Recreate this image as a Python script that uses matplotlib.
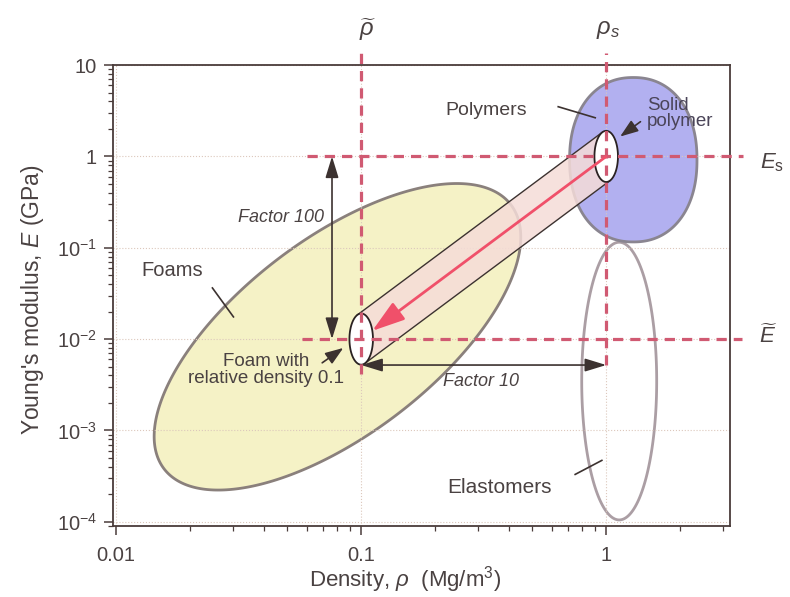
import numpy as np
import matplotlib
matplotlib.use('Agg')
import matplotlib.pyplot as plt
from matplotlib.patches import Polygon, FancyArrowPatch
from matplotlib.ticker import FixedLocator, FixedFormatter, LogLocator, NullFormatter

plt.rcParams['font.family'] = ['Liberation Sans', 'DejaVu Sans']
plt.rcParams['mathtext.fontset'] = 'custom'
plt.rcParams['mathtext.rm'] = 'Liberation Sans'
plt.rcParams['mathtext.it'] = 'Liberation Sans:italic'
plt.rcParams['mathtext.bf'] = 'Liberation Sans:bold'

# ---------------- data ----------------
x_ticks = [0.01, 0.1, 1]
x_tick_labels = ['0.01', '0.1', '1']
y_ticks = [1e-4, 1e-3, 1e-2, 1e-1, 1, 10]
y_tick_labels = [r'$10^{-4}$', r'$10^{-3}$', r'$10^{-2}$', r'$10^{-1}$', '1', '10']

rho_solid, E_solid = 1.0, 1.0        # solid polymer (Mg/m3, GPa)
rho_foam, E_foam = 0.1, 0.01         # foam, relative density 0.1

# material envelopes (centre in data units, half-sizes in decades)
foam_centre = (0.08, 0.0106)
foam_matrix = [[0.708, -0.242], [1.445, 0.853]]
polymer_centre = (1.29, 0.92)
polymer_half = (0.26, 0.90)
elastomer_centre = (1.13, 3.47e-3)
elastomer_half = (0.153, 1.52)
point_half = (0.048, 0.28)           # small ellipses marking solid / foam

factor100_x = 0.076
factor10_y = 0.0052

TXT = '#4a4242'
DARK = '#3c3230'
RED = '#d05a72'

# ---------------- helpers ----------------
T = np.linspace(0, 2 * np.pi, 400)


def ellipse_xy(centre, M):
    u0, v0 = np.log10(centre)
    u = u0 + M[0][0] * np.cos(T) + M[0][1] * np.sin(T)
    v = v0 + M[1][0] * np.cos(T) + M[1][1] * np.sin(T)
    return np.column_stack([10 ** u, 10 ** v])


def superellipse_xy(centre, half, n):
    u0, v0 = np.log10(centre)
    c, s = np.cos(T), np.sin(T)
    u = u0 + half[0] * np.sign(c) * np.abs(c) ** (2.0 / n)
    v = v0 + half[1] * np.sign(s) * np.abs(s) ** (2.0 / n)
    return np.column_stack([10 ** u, 10 ** v])


fig = plt.figure(figsize=(7.9, 5.97), dpi=100)
ax = fig.add_axes([0.143, 0.119, 0.781, 0.772])
ax.set_xscale('log')
ax.set_yscale('log')
ax.set_xlim(0.0097, 3.2)
ax.set_ylim(0.9e-4, 10)
ax.set_axisbelow('line')

# envelopes
ax.add_patch(Polygon(ellipse_xy(foam_centre, foam_matrix), closed=True,
                     fc='#f5f2c6', ec='#8a807c', lw=2.0, zorder=1))
ax.add_patch(Polygon(ellipse_xy(elastomer_centre, [[elastomer_half[0], 0], [0, elastomer_half[1]]]),
                     closed=True, fc='white', ec='#ab9ea4', lw=2.0, zorder=1))
ax.add_patch(Polygon(superellipse_xy(polymer_centre, polymer_half, 2.2), closed=True,
                     fc='#b2b0f0', ec='#8a8590', lw=2.0, zorder=1))

# tube joining the two states
uf, vf = np.log10([rho_foam, E_foam])
us, vs = np.log10([rho_solid, E_solid])
du, dv = us - uf, vs - vf
au, av = point_half
t0 = np.arctan(-(av * du) / (au * dv))
pu, pv = au * np.cos(t0), av * np.sin(t0)
corners_log = [(uf + pu, vf + pv), (us + pu, vs + pv), (us - pu, vs - pv), (uf - pu, vf - pv)]
corners = [(10 ** a, 10 ** b) for a, b in corners_log]
ax.add_patch(Polygon(corners, closed=True, fc='#f5dcd8', ec='none', alpha=0.85, zorder=2))
for i, j in [(0, 1), (3, 2)]:
    ax.plot([corners[i][0], corners[j][0]], [corners[i][1], corners[j][1]],
            color=DARK, lw=1.0, zorder=2.2)

for c in [(rho_foam, E_foam), (rho_solid, E_solid)]:
    ax.add_patch(Polygon(ellipse_xy(c, [[au, 0], [0, av]]), closed=True,
                         fc='white', ec='#2a2222', lw=1.3, zorder=3))

# red dashed reference lines
dash = dict(color=RED, lw=2.3, dashes=(3.2, 2.2), zorder=4, clip_on=False)
ax.plot([rho_foam, rho_foam], [0.0041, 14.6], **dash)
ax.plot([rho_solid, rho_solid], [0.0052, 13.5], **dash)
ax.plot([0.060, 3.62], [E_solid, E_solid], **dash)
ax.plot([0.0574, 3.6], [E_foam, E_foam], **dash)

# red arrow solid -> foam
tip_u = uf + 0.045
tip_v = vf + 0.045 * dv / du
ax.add_patch(FancyArrowPatch((rho_solid, E_solid), (10 ** tip_u, 10 ** tip_v),
                             arrowstyle='-|>,head_length=1.0,head_width=0.32',
                             mutation_scale=20, color='#f0506a', lw=2.0,
                             shrinkA=0, shrinkB=0, zorder=5))

# black double arrows
black = dict(arrowstyle='<|-|>,head_length=1.3,head_width=0.4', mutation_scale=10,
             color=DARK, lw=1.2, shrinkA=0, shrinkB=0, zorder=5)
ax.add_patch(FancyArrowPatch((factor100_x, E_solid), (factor100_x, E_foam), **black))
ax.add_patch(FancyArrowPatch((rho_foam, factor10_y), (rho_solid, factor10_y), **black))

small = dict(arrowstyle='-|>,head_length=1.1,head_width=0.4', mutation_scale=10,
             color=DARK, lw=1.2, shrinkA=0, shrinkB=0, zorder=5)
ax.add_patch(FancyArrowPatch((1.38, 2.4), (1.14, 1.65), **small))
ax.add_patch(FancyArrowPatch((0.0693, 0.0055), (0.0845, 0.0080), **small))

# leader lines
for (x0, y0), (x1, y1) in [((0.0247, 0.0363), (0.0301, 0.0175)),
                           ((0.637, 3.5), (0.902, 2.65)),
                           ((0.747, 3.3e-4), (0.96, 4.7e-4))]:
    ax.plot([x0, x1], [y0, y1], color=DARK, lw=1.2, zorder=5)

# texts
ax.text(0.0169, 0.057, 'Foams', fontsize=14.5, color=TXT, ha='center', va='center', zorder=6)
ax.text(0.324, 3.2, 'Polymers', fontsize=14, color=TXT, ha='center', va='center', zorder=6)
ax.text(0.366, 2.4e-4, 'Elastomers', fontsize=15, color=TXT, ha='center', va='center', zorder=6)
ax.text(1.47, 2.93, 'Solid\npolymer', fontsize=13.5, color='#4a4458', ha='left', va='center',
        linespacing=0.95, zorder=6)
ax.text(0.0409, 0.0046, 'Foam with\nrelative density 0.1', fontsize=13.5, color=TXT,
        ha='center', va='center', linespacing=1.05, zorder=6)
ax.text(0.0471, 0.212, 'Factor 100', fontsize=13, style='italic', color=TXT,
        ha='center', va='center', zorder=6)
ax.text(0.309, 0.0034, 'Factor 10', fontsize=13, style='italic', color=TXT,
        ha='center', va='center', zorder=6)

ax.text(0.106, 24.5, r'$\widetilde{\rho}$', fontsize=17, color=TXT, ha='center', va='center', clip_on=False)
ax.text(1.02, 24.5, r'$\rho_s$', fontsize=17, color=TXT, ha='center', va='center', clip_on=False)
ax.text(4.76, 0.85, r'$E_{\rm s}$', fontsize=16, color=TXT, ha='center', va='center', clip_on=False)
ax.text(4.6, 0.0108, r'$\widetilde{E}$', fontsize=16, color=TXT, ha='center', va='center', clip_on=False)

# axes styling
ax.grid(which='major', ls=':', lw=0.8, color='#dcc8bc')
for sp in ax.spines.values():
    sp.set_color('#4a3c3a')
    sp.set_linewidth(1.3)

ax.xaxis.set_major_locator(FixedLocator(x_ticks))
ax.xaxis.set_major_formatter(FixedFormatter(x_tick_labels))
ax.xaxis.set_minor_locator(LogLocator(base=10, subs=np.arange(2, 10)))
ax.xaxis.set_minor_formatter(NullFormatter())
ax.yaxis.set_major_locator(FixedLocator(y_ticks))
ax.yaxis.set_major_formatter(FixedFormatter(y_tick_labels))
ax.yaxis.set_minor_locator(LogLocator(base=10, subs=np.arange(2, 10)))
ax.yaxis.set_minor_formatter(NullFormatter())

ax.tick_params(which='major', direction='out', length=6.5, width=1.1, color='#4a3c3a',
               labelsize=14.5, labelcolor=TXT)
ax.tick_params(which='minor', direction='out', length=3.5, width=0.9, color='#4a3c3a')
ax.tick_params(axis='x', which='major', pad=8)
ax.tick_params(axis='y', which='major', pad=5)

ax.set_xlabel(r'Density, $\rho$  (Mg/m$^3$)', fontsize=16, color=TXT)
ax.set_ylabel(r"Young's modulus, $E$ (GPa)", fontsize=16.5, color=TXT)
ax.xaxis.set_label_coords(0.474, -0.117)
ax.xaxis.label.set_va('center')
ax.yaxis.set_label_coords(-0.13, 0.49)
ax.yaxis.label.set_va('center')

fig.savefig('out.png', dpi=100)
